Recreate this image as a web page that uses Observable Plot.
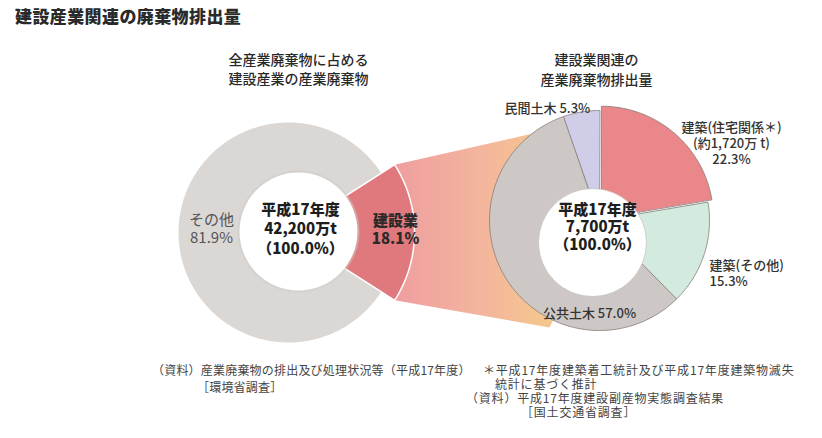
<!DOCTYPE html>
<html><head><meta charset="utf-8">
<script src="https://cdn.jsdelivr.net/npm/d3@7"></script>
<script src="https://cdn.jsdelivr.net/npm/@observablehq/plot@0.6"></script>
<style>
body{margin:0;background:#fff;font-family:"Noto Sans CJK JP","Noto Sans",sans-serif;width:822px;height:438px;position:relative;overflow:hidden}
#title{position:absolute;left:15px;top:4px;font-size:17px;font-weight:900;color:#2a2a2a;letter-spacing:0.4px;line-height:24px}
#chart{position:absolute;left:0;top:34px}
.note{position:absolute;font-size:12px;color:#444;white-space:nowrap}
.note div{line-height:14px;height:14px}
</style></head><body>
<div id="title"></div>
<div id="chart"></div>
<div class="note" id="noteL" style="left:152px;top:363px;letter-spacing:0.2px"></div>
<div class="note" id="noteR" style="left:466px;top:363px;letter-spacing:0.8px"></div>
<script>
// ---------- data ----------
const title = "建設産業関連の廃棄物排出量";
const leftSubtitle = ["全産業廃棄物に占める", "建設産業の産業廃棄物"];
const leftCategories = ["建設業", "その他"];
const leftValues = [18.1, 81.9];
const leftColors = ["#e0797d", "#dad7d4"];
const leftCenter = ["平成17年度", "42,200万t", "（100.0%）"];

const rightSubtitle = ["建設業関連の", "産業廃棄物排出量"];
const rightCategories = ["建築(住宅関係＊)", "建築(その他)", "公共土木", "民間土木"];
const rightValues = [22.3, 15.3, 57.0, 5.3];
const rightColors = ["#e9878a", "#d3ebdf", "#cdc8c5", "#cfcde8"];
const rightCenter = ["平成17年度", "7,700万t", "（100.0%）"];
const housingAmount = "(約1,720万 t)";

const leftNotes = ["（資料）産業廃棄物の排出及び処理状況等（平成17年度）", "［環境省調査］"];
const rightNotes = ["＊平成17年度建築着工統計及び平成17年度建築物滅失", "統計に基づく推計", "（資料）平成17年度建設副産物実態調査結果", "［国土交通省調査］"];

// ---------- layout ----------
const W = 822, TOP = 34, H = 326;
const L = {cx: 288, cy: 232, r: 110, rHi: 126, icx: 298, icy: 231, ir: 59};
const R = {cx: 599, cy: 220, r: 110, icx: 592, icy: 242, ir: 54};

function slice(id, cx, cy, r, a0, a1, fill, offset = 0) {
  const mid = (a0 + a1) / 2;
  const ox = offset * Math.sin(mid), oy = -offset * Math.cos(mid);
  const pts = [{id, fill, x: cx + ox, y: cy + oy}];
  const n = Math.max(2, Math.ceil((a1 - a0) / 0.02));
  for (let i = 0; i <= n; i++) {
    const a = a0 + (a1 - a0) * i / n;
    pts.push({id, fill, x: cx + ox + r * Math.sin(a), y: cy + oy - r * Math.cos(a)});
  }
  return pts;
}
const TAU = Math.PI * 2;

// left donut: 建設業 centred on 3 o'clock
const lTotal = d3.sum(leftValues);
let a = Math.PI / 2 - (leftValues[0] / lTotal) * Math.PI;
const leftAngles = leftValues.map(v => { const s = a; a += v / lTotal * TAU; return [s, a]; });
const leftPts = [];
leftCategories.forEach((c, i) => {
  if (i === 0) return;
  leftPts.push(...slice(c, L.cx, L.cy, L.r, leftAngles[i][0], leftAngles[i][1], leftColors[i]));
});
const leftHi = slice(leftCategories[0], L.cx, L.cy, L.rHi, leftAngles[0][0], leftAngles[0][1], leftColors[0]);

// right donut: clockwise from 12 o'clock
const rTotal = d3.sum(rightValues);
let b = 0;
const rightAngles = rightValues.map(v => { const s = b; b += v / rTotal * TAU; return [s, b]; });
const rightPts = [];
rightCategories.forEach((c, i) => {
  if (i === 0) return;
  rightPts.push(...slice(c, R.cx, R.cy, R.r, rightAngles[i][0], rightAngles[i][1], rightColors[i]));
});
const rightHi = slice(rightCategories[0], R.cx, R.cy, R.r + 2, rightAngles[0][0], rightAngles[0][1], rightColors[0], 3);

// funnel from the 建設業 slice to the right donut
const [fa0, fa1] = leftAngles[0];
const pol = (cx, cy, r, ang) => ({x: cx + r * Math.sin(ang), y: cy - r * Math.cos(ang)});
const funnel = [
  pol(L.cx, L.cy, L.rHi, fa0),
  pol(R.cx, R.cy, R.r, 322 / 360 * TAU),
  {x: R.cx, y: R.cy},
  pol(R.cx, R.cy, 118, 205 / 360 * TAU),
  pol(L.cx, L.cy, L.rHi, fa1)
];

const pct = v => v.toFixed(1) + "%";
const font = '"Noto Sans CJK JP","Noto Sans",sans-serif';

const texts = [
  {t: leftSubtitle.join("\n"), x: 298, y: 67.5, size: 14, w: 500, lh: 1.36, anchor: "middle", fill: "#2a2a2a"},
  {t: rightSubtitle.join("\n"), x: 596, y: 68, size: 14, w: 500, lh: 1.43, anchor: "middle", fill: "#2a2a2a"},
  {t: leftCenter.join("\n"), x: 300, y: 227.5, size: 15, w: 900, lh: 1.32, anchor: "middle", fill: "#1e1e1e"},
  {t: rightCenter.join("\n"), x: 597, y: 226, size: 15, w: 900, lh: 1.17, anchor: "middle", fill: "#1e1e1e"},
  {t: leftCategories[1] + "\n" + pct(leftValues[1]), x: 211, y: 228, size: 15, w: 400, lh: 1.15, anchor: "middle", fill: "#555"},
  {t: leftCategories[0] + "\n" + pct(leftValues[0]), x: 395, y: 229, size: 15, w: 900, lh: 1.15, anchor: "middle", fill: "#2a2a2a"},
  {t: rightCategories[3] + " " + pct(rightValues[3]), x: 504, y: 107, size: 13, w: 500, lh: 1.2, anchor: "start", fill: "#333"},
  {t: rightCategories[0] + "\n" + housingAmount + "\n" + pct(rightValues[0]), x: 731, y: 142.5, size: 13, w: 500, lh: 1.2, anchor: "middle", fill: "#333"},
  {t: rightCategories[1] + "\n" + pct(rightValues[1]), x: 709, y: 272.5, size: 13, w: 500, lh: 1.18, anchor: "start", fill: "#333"},
  {t: rightCategories[2] + " " + pct(rightValues[2]), x: 589, y: 312, size: 13, w: 500, lh: 1.2, anchor: "middle", fill: "#333"}
];
const textMarks = texts.map(d => Plot.text([d], {
  x: "x", y: "y", text: "t", fontSize: d.size, fontWeight: d.w, lineHeight: d.lh,
  textAnchor: d.anchor, fill: d.fill, fontFamily: font
}));

const chart = Plot.plot({
  width: W, height: H, margin: 0,
  x: {domain: [0, W], range: [0, W], axis: null},
  y: {domain: [TOP, TOP + H], range: [0, H], axis: null},
  color: {type: "identity"},
  style: {background: "transparent", fontFamily: font, overflow: "visible"},
  marks: [
    Plot.line(funnel, {x: "x", y: "y", fill: "url(#funnelGrad)", stroke: "none", curve: "linear-closed"}),
    Plot.line(leftPts, {x: "x", y: "y", z: "id", fill: "fill", stroke: "none", curve: "linear-closed"}),
    Plot.line(leftHi, {x: "x", y: "y", z: "id", fill: "fill", stroke: "white", strokeWidth: 1.5, curve: "linear-closed"}),
    Plot.dot([L], {x: "icx", y: "icy", r: L.ir + 2, fill: "#cfcbc7", fillOpacity: 0.5, stroke: "none"}),
    Plot.dot([L], {x: "icx", y: "icy", r: L.ir, fill: "white", stroke: "none"}),
    Plot.line(rightPts, {x: "x", y: "y", z: "id", fill: "fill", stroke: "#857b77", strokeWidth: 0.8, curve: "linear-closed"}),
    Plot.line(rightHi, {x: "x", y: "y", z: "id", fill: "fill", stroke: "#857b77", strokeWidth: 0.8, curve: "linear-closed"}),
    Plot.dot([R], {x: "icx", y: "icy", r: R.ir, fill: "white", stroke: "#b9b3af", strokeWidth: 0.6}),
    ...textMarks
  ]
});

// gradient for the funnel
const svg = d3.select(chart);
const defs = svg.insert("defs", ":first-child");
const g = defs.append("linearGradient").attr("id", "funnelGrad")
  .attr("gradientUnits", "userSpaceOnUse").attr("x1", 400).attr("x2", 545).attr("y1", 0).attr("y2", 0);
g.append("stop").attr("offset", 0).attr("stop-color", "#ef9f9f");
g.append("stop").attr("offset", 0.55).attr("stop-color", "#f3b59d");
g.append("stop").attr("offset", 1).attr("stop-color", "#f5c68e");

document.getElementById("chart").appendChild(chart);
document.getElementById("title").textContent = title;

const nl = document.getElementById("noteL");
nl.innerHTML = `<div style="height:17px;line-height:14px">${leftNotes[0]}</div><div style="padding-left:45px">${leftNotes[1]}</div>`;
const nr = document.getElementById("noteR");
nr.innerHTML = `<div style="padding-left:17px">${rightNotes[0]}</div>` +
  `<div style="padding-left:29px">${rightNotes[1]}</div>` +
  `<div>${rightNotes[2]}</div>` +
  `<div style="padding-left:55px">${rightNotes[3]}</div>`;
</script>
</body></html>
